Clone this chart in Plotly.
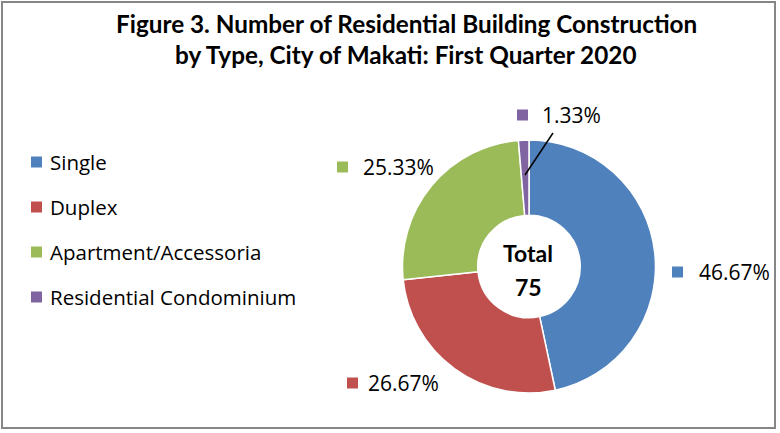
import plotly.graph_objects as go

categories = ["Single", "Duplex", "Apartment/Accessoria", "Residential Condominium"]
values = [35, 20, 19, 1]
colors = ["#4F81BD", "#C0504D", "#9BBB59", "#8064A2"]
title_lines = ["Figure 3. Number of Residential Building Construction",
               "by Type, City of Makati: First Quarter 2020"]

W, H = 780, 433
FONT = "Open Sans"
total = sum(values)
pcts = [v / total * 100 for v in values]

def px(x):
    return x / W

def py(y):
    return 1 - y / H

cx, cy, r = 529, 266.5, 126.5

fig = go.Figure()
fig.add_trace(go.Pie(
    labels=categories, values=values, sort=False, direction="clockwise", rotation=0,
    hole=0.405, marker=dict(colors=colors, line=dict(color="white", width=1.5)),
    textinfo="none", hoverinfo="label+value+percent", showlegend=False,
    domain=dict(x=[px(cx - r), px(cx + r)], y=[py(cy + r), py(cy - r)]),
))

ann = []
shapes = []
# title
for txt, yy in zip(title_lines, [24, 55]):
    ann.append(dict(x=px(406), y=py(yy), xref="paper", yref="paper", text="<b>%s</b>" % txt,
                    showarrow=False, font=dict(family="Lato", size=24.3, color="black"),
                    xanchor="center", yanchor="middle"))
# center total
ann.append(dict(x=px(528), y=py(253), xref="paper", yref="paper", text="<b>Total</b>",
                showarrow=False, font=dict(family="Lato", size=23, color="black"), xanchor="center", yanchor="middle"))
ann.append(dict(x=px(528), y=py(287), xref="paper", yref="paper", text="<b>%d</b>" % total,
                showarrow=False, font=dict(family="Lato", size=23, color="black"), xanchor="center", yanchor="middle"))

def square(x0, yc, col):
    shapes.append(dict(type="rect", xref="paper", yref="paper", x0=px(x0), x1=px(x0 + 11),
                       y0=py(yc + 5.5), y1=py(yc - 5.5), fillcolor=col, line=dict(width=0)))

# legend
leg_y = [162, 207, 252, 297]
for cat, col, yy in zip(categories, colors, leg_y):
    square(31, yy, col)
    ann.append(dict(x=px(48), y=py(yy), xref="paper", yref="paper", text=cat, showarrow=False,
                    font=dict(family=FONT, size=20.5, color="black"), xanchor="left", yanchor="middle"))

# data labels
lab_pos = [(672, 697, 272), (347, 366, 383), (337, 361, 167), (517, 540, 115)]
for p, col, (sx, tx, ly) in zip(pcts, colors, lab_pos):
    square(sx, ly, col)
    ann.append(dict(x=px(tx), y=py(ly), xref="paper", yref="paper", text="%.2f%%" % p, showarrow=False,
                    font=dict(family=FONT, size=21, color="black"), xanchor="left", yanchor="middle"))

shapes += [
    dict(type="rect", xref="paper", yref="paper", x0=px(2), x1=px(775), y0=py(428), y1=py(2),
         line=dict(color="#868686", width=2)),
    dict(type="line", xref="paper", yref="paper", x0=px(525), y0=py(175), x1=px(553), y1=py(133),
         line=dict(color="black", width=1.5)),
]

fig.update_layout(
    width=W, height=H, margin=dict(l=0, r=0, t=0, b=0),
    paper_bgcolor="white", plot_bgcolor="white",
    annotations=ann, shapes=shapes, showlegend=False,
)
fig.write_html("out.html")
